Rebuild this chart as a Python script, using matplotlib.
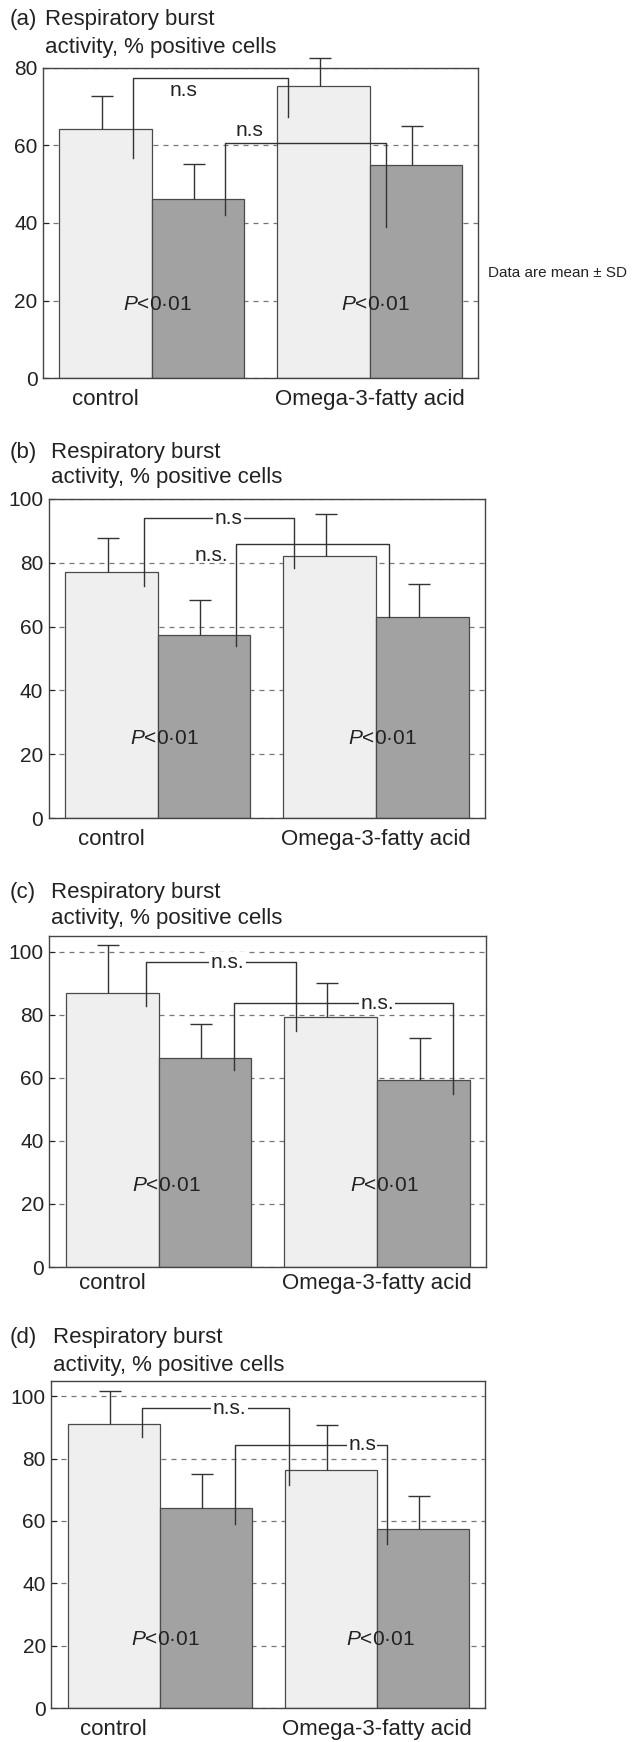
import matplotlib
matplotlib.use('Agg')
import matplotlib.pyplot as plt

plt.rcParams['font.family'] = ['Liberation Sans', 'DejaVu Sans']
plt.rcParams['mathtext.fontset'] = 'custom'
plt.rcParams['mathtext.it'] = 'Liberation Sans:italic'
plt.rcParams['mathtext.rm'] = 'Liberation Sans'

# data (% positive cells, mean and SD)
panel_tags = ['(a)', '(b)', '(c)', '(d)']
groups = ['control', 'Omega-3-fatty acid']
light_mean = [[64.1, 75.2], [77.0, 82.0], [87.0, 79.2], [91.0, 76.4]]
light_sd = [[8.7, 7.2], [10.7, 13.2], [15.1, 11.0], [10.7, 14.5]]
dark_mean = [[46.1, 55.0], [57.4, 62.9], [66.2, 59.3], [64.1, 57.4]]
dark_sd = [[9.2, 9.9], [11.0, 10.4], [10.9, 13.3], [10.9, 10.7]]
y_top = [80, 100, 105, 105]
y_ticks = [[0, 20, 40, 60, 80], [0, 20, 40, 60, 80, 100],
           [0, 20, 40, 60, 80, 100], [0, 20, 40, 60, 80, 100]]
p_label = '$P$<0·01'

# layout (pixels of the 635x1742 picture)
W, H = 635, 1742
axes_px = [(43, 67.7, 478, 378.3), (48.6, 499, 484.6, 818),
           (49.4, 936, 485.8, 1267), (51.4, 1380.7, 484.6, 1708)]
title_dy = [(47.7, 20.7), (47, 21), (44, 18), (42.7, 15.7)]
xlab_pad = [8, 8, 4, 8]
p_pos = [[(1.24, 18.9), (3.59, 18.9)], [(1.25, 24.9), (3.6, 24.9)],
         [(1.256, 26), (3.61, 26)], [(1.24, 22), (3.57, 22)]]
# brackets: x left, x right, y, left leg end, right leg end, text, text x, text y, white box
brackets = [
    [(0.976, 2.65, 77.3, 56.7, 67.4, 'n.s', 1.52, 74.2, False),
     (1.97, 3.71, 60.7, 42.1, 38.9, 'n.s', 2.23, 63.9, False)],
    [(1.033, 2.648, 93.9, 72.8, 78.3, 'n.s', 1.94, 93.9, True),
     (2.015, 3.665, 85.9, 53.9, 62.9, 'n.s.', 1.76, 82.3, False)],
    [(1.038, 2.652, 96.6, 82.7, 74.8, 'n.s.', 1.92, 96.6, True),
     (1.99, 4.345, 83.6, 62.6, 54.8, 'n.s.', 3.53, 83.6, True)],
    [(0.98, 2.58, 96.2, 86.9, 71.4, 'n.s.', 1.93, 96.2, True),
     (1.99, 3.64, 84.5, 59.0, 52.6, 'n.s', 3.37, 84.5, True)],
]

light_c = '#efefef'
dark_c = '#a2a2a2'
edge_c = '#4a4a4a'
ink = '#222222'

centers = [1.175, 3.53]

fig = plt.figure(figsize=(W / 100, H / 100), dpi=100)

for i in range(4):
    l, t, r, b = axes_px[i]
    ax = fig.add_axes([l / W, 1 - b / H, (r - l) / W, (b - t) / H])
    ax.set_xlim(0, 4.7)
    ax.set_ylim(0, y_top[i])
    ax.set_axisbelow(True)
    ax.yaxis.grid(True, linestyle=(0, (4, 4)), color='#777777', linewidth=0.9)

    xl = [c - 0.5 for c in centers]
    xd = [c + 0.5 for c in centers]
    ax.bar(xl, light_mean[i], width=1.0, color=light_c, edgecolor=edge_c, linewidth=0.9, zorder=2)
    ax.bar(xd, dark_mean[i], width=1.0, color=dark_c, edgecolor=edge_c, linewidth=0.9, zorder=2)
    for xs, m, s in [(xl, light_mean[i], light_sd[i]), (xd, dark_mean[i], dark_sd[i])]:
        eb = ax.errorbar([x - 0.04 for x in xs], m, yerr=[[0] * len(s), s], fmt='none',
                         ecolor='#333333', elinewidth=1, capsize=8, capthick=1, zorder=3)
        caps = eb.lines[1]
        caps[0].set_visible(False)  # no cap at the bar top
        for art in list(caps) + list(eb.lines[2]):
            art.set_clip_on(False)

    for (x1, x2, y, y1, y2, lab, tx, ty, box) in brackets[i]:
        ax.plot([x1, x1, x2, x2], [y1, y, y, y2], color='#333333', lw=1, zorder=4, clip_on=False)
        kw = {}
        if box:
            kw['bbox'] = dict(facecolor='white', edgecolor='none', pad=1)
        ax.text(tx, ty, lab, ha='center', va='center', fontsize=15, color=ink, zorder=5, **kw)

    for (px, py) in p_pos[i]:
        ax.text(px, py, p_label, ha='center', va='center', fontsize=15, color=ink, zorder=5)

    ax.set_yticks(y_ticks[i])
    ax.tick_params(axis='y', direction='in', length=4, labelsize=15, colors=ink, pad=4)
    ax.set_xticks([centers[0] - 0.5, centers[1]])
    ax.set_xticklabels(groups)
    ax.tick_params(axis='x', length=0, labelsize=16, colors=ink, pad=xlab_pad[i])
    for sp in ax.spines.values():
        sp.set_color('#444444')
        sp.set_linewidth(1)

    fig.text(10 / W, 1 - (t - title_dy[i][0]) / H, panel_tags[i], fontsize=16,
             color=ink, va='center', ha='left')
    fig.text(l / W + 2 / W, 1 - (t - title_dy[i][0]) / H, 'Respiratory burst', fontsize=16,
             color=ink, va='center', ha='left')
    fig.text(l / W + 2 / W, 1 - (t - title_dy[i][1]) / H, 'activity, % positive cells', fontsize=16,
             color=ink, va='center', ha='left')

fig.text(488 / W, 1 - 273 / H, 'Data are mean ± SD', fontsize=11, color=ink, va='center', ha='left')

fig.savefig('out.png', dpi=100)
